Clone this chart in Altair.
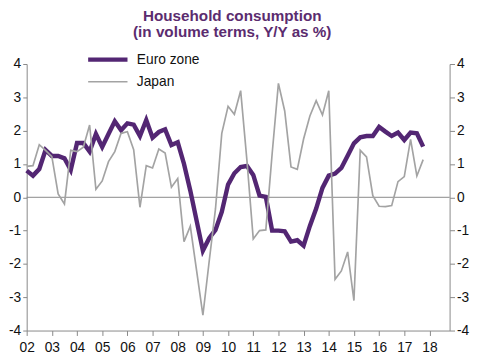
import altair as alt
import pandas as pd

title_lines = ["Household consumption", "(in volume terms, Y/Y as %)"]
series_names = ["Euro zone", "Japan"]
series_colors = ["#532673", "#a3a3a3"]
series_widths = [4.5, 1.7]
start_year = 2002
year_ticks = list(range(2002, 2019))
y_ticks = list(range(-4, 5))

# quarterly, 2002Q1 .. 2017Q4
euro = [0.80, 0.65, 0.85, 1.42, 1.24, 1.24, 1.17, 0.82,
        1.63, 1.63, 1.37, 1.90, 1.51, 1.90, 2.28, 2.01,
        2.22, 2.18, 1.84, 2.32, 1.79, 1.96, 2.04, 1.57,
        1.65, 1.00, 0.20, -0.70, -1.60, -1.23, -0.98, -0.44,
        0.38, 0.72, 0.91, 0.94, 0.67, 0.05, 0.01, -1.00,
        -1.00, -1.02, -1.33, -1.29, -1.45, -0.86, -0.34, 0.28,
        0.65, 0.71, 0.88, 1.25, 1.62, 1.80, 1.84, 1.84,
        2.11, 1.97, 1.84, 1.94, 1.72, 1.94, 1.92, 1.52]
japan = [0.93, 0.95, 1.58, 1.41, 1.22, 0.10, -0.20, 1.41,
         1.37, 1.50, 2.17, 0.24, 0.49, 1.07, 1.37, 1.92,
         1.97, 1.43, -0.30, 0.95, 0.88, 1.45, 1.33, 0.30,
         0.56, -1.33, -0.87, -2.20, -3.54, -1.92, -0.35, 1.92,
         2.73, 2.49, 3.20, 1.10, -1.25, -1.00, -0.98, 1.30,
         3.42, 2.59, 0.91, 0.84, 1.75, 2.44, 2.90, 2.47,
         3.20, -2.46, -2.21, -1.64, -3.10, 1.41, 1.21, 0.05,
         -0.27, -0.28, -0.25, 0.47, 0.62, 1.74, 0.64, 1.13]

rows = []
for name, vals in zip(series_names, [euro, japan]):
    for k, v in enumerate(vals):
        rows.append({"t": start_year + k / 4, "v": v, "series": name})
df = pd.DataFrame(rows)

FONT = "Liberation Sans"
x_scale = alt.Scale(domain=[2002, 2018.8], nice=False, zero=False)
y_scale = alt.Scale(domain=[-4, 4], nice=False)

x_enc = alt.X("t:Q", scale=x_scale,
              axis=alt.Axis(values=year_ticks, title=None,
                            labelExpr="format(datum.value - 2000, '02d')",
                            labelPadding=5, labelFlush=False, labelOverlap=False))

legend = alt.Legend(title=None, orient="none", legendX=75, legendY=-12,
                    symbolType="M-4,0H4", symbolSize=100, labelOffset=22,
                    labelFont=FONT, labelFontSize=14, labelColor="#111",
                    rowPadding=6, padding=0)

zero = alt.Chart(pd.DataFrame({"v": [0]})).mark_rule(color="#888888", strokeWidth=1).encode(
    y=alt.Y("v:Q", scale=y_scale, axis=None)
)

lines = alt.Chart(df).mark_line(strokeJoin="miter").encode(
    x=x_enc,
    y=alt.Y("v:Q", scale=y_scale,
            axis=alt.Axis(orient="left", values=y_ticks, title=None, tickSize=4,
                          labelExpr="'' + datum.value", labelPadding=2)),
    color=alt.Color("series:N", scale=alt.Scale(domain=series_names, range=series_colors), legend=legend),
    strokeWidth=alt.StrokeWidth("series:N", scale=alt.Scale(domain=series_names, range=series_widths), legend=legend),
)

right = alt.Chart(df).mark_line(opacity=0).encode(
    x=x_enc,
    y=alt.Y("v:Q", scale=y_scale,
            axis=alt.Axis(orient="right", values=y_ticks, title=None,
                          labelExpr="'' + datum.value", labelPadding=2)),
)

chart = alt.layer(zero, lines, right).resolve_scale(y="independent").properties(
    width=430, height=271,
    padding={"left": 19, "top": 54, "right": 36, "bottom": 28},
    autosize=alt.AutoSizeParams(type="none"),
    title=alt.Title(text=title_lines, font=FONT, fontSize=15.5, fontWeight="bold",
                    color="#5b2c6f", anchor="middle", dx=-6, offset=12, lineHeight=16.5),
).configure_axis(
    domainColor="#888888", tickColor="#888888", tickSize=5, grid=False,
    labelFont=FONT, labelFontSize=14, labelColor="#111111",
).configure_view(stroke=None)

chart.save("out.html", embed_options={"renderer": "svg", "actions": False})
